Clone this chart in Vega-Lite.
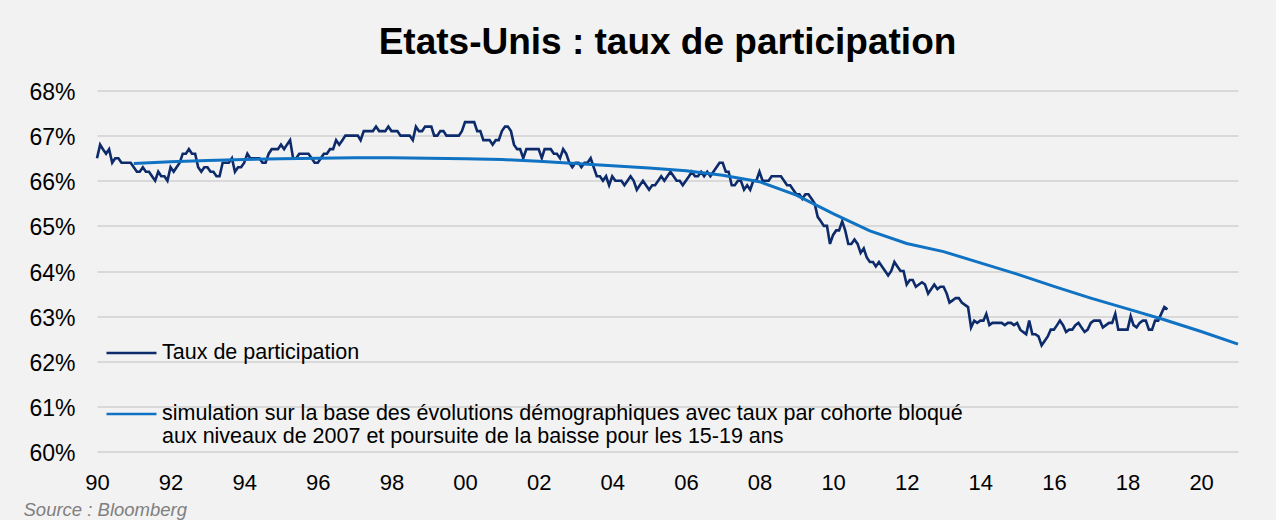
{
 "$schema": "https://vega.github.io/schema/vega-lite/v6.json",
 "autosize": {"type": "none"},
 "width": 1141,
 "height": 361,
 "padding": {"left": 97, "top": 90.5, "right": 38, "bottom": 68.5},
 "background": "#f2f2f2",
 "title": {"text": "Etats-Unis : taux de participation", "font": "Liberation Sans", "fontSize": 37, "fontWeight": "bold", "color": "#000000", "anchor": "middle", "frame": "group", "offset": 20},
 "config": {"view": {"stroke": null}, "font": "Liberation Sans"},
 "datasets": {
  "taux": [
{"d":"1990-01","v":66.5},{"d":"1990-02","v":66.8},{"d":"1990-03","v":66.7},{"d":"1990-04","v":66.6},{"d":"1990-05","v":66.7},{"d":"1990-06","v":66.4},{"d":"1990-07","v":66.5},{"d":"1990-08","v":66.5},{"d":"1990-09","v":66.4},{"d":"1990-10","v":66.4},{"d":"1990-11","v":66.4},{"d":"1990-12","v":66.4},
{"d":"1991-01","v":66.3},{"d":"1991-02","v":66.2},{"d":"1991-03","v":66.2},{"d":"1991-04","v":66.3},{"d":"1991-05","v":66.2},{"d":"1991-06","v":66.2},{"d":"1991-07","v":66.1},{"d":"1991-08","v":66.0},{"d":"1991-09","v":66.2},{"d":"1991-10","v":66.1},{"d":"1991-11","v":66.1},{"d":"1991-12","v":66.0},
{"d":"1992-01","v":66.3},{"d":"1992-02","v":66.2},{"d":"1992-03","v":66.3},{"d":"1992-04","v":66.4},{"d":"1992-05","v":66.6},{"d":"1992-06","v":66.6},{"d":"1992-07","v":66.7},{"d":"1992-08","v":66.6},{"d":"1992-09","v":66.6},{"d":"1992-10","v":66.3},{"d":"1992-11","v":66.2},{"d":"1992-12","v":66.3},
{"d":"1993-01","v":66.3},{"d":"1993-02","v":66.2},{"d":"1993-03","v":66.2},{"d":"1993-04","v":66.1},{"d":"1993-05","v":66.1},{"d":"1993-06","v":66.4},{"d":"1993-07","v":66.4},{"d":"1993-08","v":66.4},{"d":"1993-09","v":66.5},{"d":"1993-10","v":66.2},{"d":"1993-11","v":66.3},{"d":"1993-12","v":66.3},
{"d":"1994-01","v":66.4},{"d":"1994-02","v":66.6},{"d":"1994-03","v":66.5},{"d":"1994-04","v":66.5},{"d":"1994-05","v":66.5},{"d":"1994-06","v":66.5},{"d":"1994-07","v":66.4},{"d":"1994-08","v":66.4},{"d":"1994-09","v":66.6},{"d":"1994-10","v":66.7},{"d":"1994-11","v":66.7},{"d":"1994-12","v":66.7},
{"d":"1995-01","v":66.8},{"d":"1995-02","v":66.7},{"d":"1995-03","v":66.8},{"d":"1995-04","v":66.9},{"d":"1995-05","v":66.5},{"d":"1995-06","v":66.5},{"d":"1995-07","v":66.6},{"d":"1995-08","v":66.6},{"d":"1995-09","v":66.6},{"d":"1995-10","v":66.6},{"d":"1995-11","v":66.5},{"d":"1995-12","v":66.4},
{"d":"1996-01","v":66.4},{"d":"1996-02","v":66.5},{"d":"1996-03","v":66.6},{"d":"1996-04","v":66.6},{"d":"1996-05","v":66.7},{"d":"1996-06","v":66.7},{"d":"1996-07","v":66.9},{"d":"1996-08","v":66.8},{"d":"1996-09","v":66.9},{"d":"1996-10","v":67.0},{"d":"1996-11","v":67.0},{"d":"1996-12","v":67.0},
{"d":"1997-01","v":67.0},{"d":"1997-02","v":67.0},{"d":"1997-03","v":66.9},{"d":"1997-04","v":67.1},{"d":"1997-05","v":67.1},{"d":"1997-06","v":67.1},{"d":"1997-07","v":67.1},{"d":"1997-08","v":67.2},{"d":"1997-09","v":67.1},{"d":"1997-10","v":67.1},{"d":"1997-11","v":67.1},{"d":"1997-12","v":67.2},
{"d":"1998-01","v":67.1},{"d":"1998-02","v":67.1},{"d":"1998-03","v":67.1},{"d":"1998-04","v":67.0},{"d":"1998-05","v":67.0},{"d":"1998-06","v":67.0},{"d":"1998-07","v":67.0},{"d":"1998-08","v":66.9},{"d":"1998-09","v":67.2},{"d":"1998-10","v":67.1},{"d":"1998-11","v":67.1},{"d":"1998-12","v":67.2},
{"d":"1999-01","v":67.2},{"d":"1999-02","v":67.2},{"d":"1999-03","v":67.0},{"d":"1999-04","v":67.0},{"d":"1999-05","v":67.1},{"d":"1999-06","v":67.1},{"d":"1999-07","v":67.0},{"d":"1999-08","v":67.0},{"d":"1999-09","v":67.0},{"d":"1999-10","v":67.0},{"d":"1999-11","v":67.0},{"d":"1999-12","v":67.1},
{"d":"2000-01","v":67.3},{"d":"2000-02","v":67.3},{"d":"2000-03","v":67.3},{"d":"2000-04","v":67.3},{"d":"2000-05","v":67.1},{"d":"2000-06","v":67.1},{"d":"2000-07","v":66.9},{"d":"2000-08","v":66.9},{"d":"2000-09","v":66.9},{"d":"2000-10","v":66.8},{"d":"2000-11","v":66.9},{"d":"2000-12","v":66.9},
{"d":"2001-01","v":67.1},{"d":"2001-02","v":67.2},{"d":"2001-03","v":67.2},{"d":"2001-04","v":67.1},{"d":"2001-05","v":66.8},{"d":"2001-06","v":66.7},{"d":"2001-07","v":66.7},{"d":"2001-08","v":66.5},{"d":"2001-09","v":66.7},{"d":"2001-10","v":66.7},{"d":"2001-11","v":66.7},{"d":"2001-12","v":66.7},
{"d":"2002-01","v":66.7},{"d":"2002-02","v":66.5},{"d":"2002-03","v":66.7},{"d":"2002-04","v":66.7},{"d":"2002-05","v":66.7},{"d":"2002-06","v":66.6},{"d":"2002-07","v":66.6},{"d":"2002-08","v":66.5},{"d":"2002-09","v":66.7},{"d":"2002-10","v":66.6},{"d":"2002-11","v":66.4},{"d":"2002-12","v":66.3},
{"d":"2003-01","v":66.4},{"d":"2003-02","v":66.4},{"d":"2003-03","v":66.3},{"d":"2003-04","v":66.4},{"d":"2003-05","v":66.4},{"d":"2003-06","v":66.5},{"d":"2003-07","v":66.3},{"d":"2003-08","v":66.1},{"d":"2003-09","v":66.1},{"d":"2003-10","v":66.0},{"d":"2003-11","v":66.1},{"d":"2003-12","v":65.9},
{"d":"2004-01","v":66.1},{"d":"2004-02","v":66.0},{"d":"2004-03","v":66.0},{"d":"2004-04","v":66.0},{"d":"2004-05","v":65.9},{"d":"2004-06","v":66.0},{"d":"2004-07","v":66.1},{"d":"2004-08","v":66.0},{"d":"2004-09","v":65.8},{"d":"2004-10","v":65.9},{"d":"2004-11","v":66.0},{"d":"2004-12","v":65.9},
{"d":"2005-01","v":65.8},{"d":"2005-02","v":65.9},{"d":"2005-03","v":65.9},{"d":"2005-04","v":66.0},{"d":"2005-05","v":66.1},{"d":"2005-06","v":66.0},{"d":"2005-07","v":66.1},{"d":"2005-08","v":66.2},{"d":"2005-09","v":66.1},{"d":"2005-10","v":66.0},{"d":"2005-11","v":66.0},{"d":"2005-12","v":65.9},
{"d":"2006-01","v":66.0},{"d":"2006-02","v":66.1},{"d":"2006-03","v":66.2},{"d":"2006-04","v":66.1},{"d":"2006-05","v":66.1},{"d":"2006-06","v":66.2},{"d":"2006-07","v":66.1},{"d":"2006-08","v":66.2},{"d":"2006-09","v":66.1},{"d":"2006-10","v":66.2},{"d":"2006-11","v":66.3},{"d":"2006-12","v":66.4},
{"d":"2007-01","v":66.4},{"d":"2007-02","v":66.2},{"d":"2007-03","v":66.2},{"d":"2007-04","v":65.9},{"d":"2007-05","v":65.9},{"d":"2007-06","v":66.0},{"d":"2007-07","v":66.0},{"d":"2007-08","v":65.8},{"d":"2007-09","v":65.9},{"d":"2007-10","v":65.8},{"d":"2007-11","v":66.0},{"d":"2007-12","v":66.0},
{"d":"2008-01","v":66.2},{"d":"2008-02","v":66.0},{"d":"2008-03","v":66.0},{"d":"2008-04","v":66.0},{"d":"2008-05","v":66.1},{"d":"2008-06","v":66.1},{"d":"2008-07","v":66.1},{"d":"2008-08","v":66.1},{"d":"2008-09","v":66.0},{"d":"2008-10","v":65.9},{"d":"2008-11","v":65.9},{"d":"2008-12","v":65.8},
{"d":"2009-01","v":65.7},{"d":"2009-02","v":65.7},{"d":"2009-03","v":65.6},{"d":"2009-04","v":65.7},{"d":"2009-05","v":65.7},{"d":"2009-06","v":65.6},{"d":"2009-07","v":65.5},{"d":"2009-08","v":65.2},{"d":"2009-09","v":65.1},{"d":"2009-10","v":65.0},{"d":"2009-11","v":65.0},{"d":"2009-12","v":64.6},
{"d":"2010-01","v":64.8},{"d":"2010-02","v":64.9},{"d":"2010-03","v":64.9},{"d":"2010-04","v":65.1},{"d":"2010-05","v":64.9},{"d":"2010-06","v":64.6},{"d":"2010-07","v":64.6},{"d":"2010-08","v":64.7},{"d":"2010-09","v":64.6},{"d":"2010-10","v":64.4},{"d":"2010-11","v":64.5},{"d":"2010-12","v":64.3},
{"d":"2011-01","v":64.2},{"d":"2011-02","v":64.2},{"d":"2011-03","v":64.1},{"d":"2011-04","v":64.2},{"d":"2011-05","v":64.1},{"d":"2011-06","v":64.0},{"d":"2011-07","v":63.9},{"d":"2011-08","v":64.0},{"d":"2011-09","v":64.2},{"d":"2011-10","v":64.1},{"d":"2011-11","v":64.0},{"d":"2011-12","v":64.0},
{"d":"2012-01","v":63.7},{"d":"2012-02","v":63.8},{"d":"2012-03","v":63.8},{"d":"2012-04","v":63.65},{"d":"2012-05","v":63.7},{"d":"2012-06","v":63.75},{"d":"2012-07","v":63.7},{"d":"2012-08","v":63.5},{"d":"2012-09","v":63.6},{"d":"2012-10","v":63.7},{"d":"2012-11","v":63.6},{"d":"2012-12","v":63.65},
{"d":"2013-01","v":63.65},{"d":"2013-02","v":63.5},{"d":"2013-03","v":63.3},{"d":"2013-04","v":63.35},{"d":"2013-05","v":63.4},{"d":"2013-06","v":63.4},{"d":"2013-07","v":63.3},{"d":"2013-08","v":63.25},{"d":"2013-09","v":63.2},{"d":"2013-10","v":62.75},{"d":"2013-11","v":62.9},{"d":"2013-12","v":62.85},
{"d":"2014-01","v":62.9},{"d":"2014-02","v":62.9},{"d":"2014-03","v":63.05},{"d":"2014-04","v":62.8},{"d":"2014-05","v":62.85},{"d":"2014-06","v":62.85},{"d":"2014-07","v":62.85},{"d":"2014-08","v":62.85},{"d":"2014-09","v":62.8},{"d":"2014-10","v":62.85},{"d":"2014-11","v":62.85},{"d":"2014-12","v":62.8},
{"d":"2015-01","v":62.85},{"d":"2015-02","v":62.7},{"d":"2015-03","v":62.65},{"d":"2015-04","v":62.6},{"d":"2015-05","v":62.9},{"d":"2015-06","v":62.6},{"d":"2015-07","v":62.6},{"d":"2015-08","v":62.55},{"d":"2015-09","v":62.35},{"d":"2015-10","v":62.45},{"d":"2015-11","v":62.55},{"d":"2015-12","v":62.7},
{"d":"2016-01","v":62.7},{"d":"2016-02","v":62.8},{"d":"2016-03","v":62.9},{"d":"2016-04","v":62.8},{"d":"2016-05","v":62.65},{"d":"2016-06","v":62.7},{"d":"2016-07","v":62.7},{"d":"2016-08","v":62.8},{"d":"2016-09","v":62.85},{"d":"2016-10","v":62.75},{"d":"2016-11","v":62.65},{"d":"2016-12","v":62.7},
{"d":"2017-01","v":62.85},{"d":"2017-02","v":62.9},{"d":"2017-03","v":62.9},{"d":"2017-04","v":62.9},{"d":"2017-05","v":62.75},{"d":"2017-06","v":62.8},{"d":"2017-07","v":62.85},{"d":"2017-08","v":62.85},{"d":"2017-09","v":63.05},{"d":"2017-10","v":62.7},{"d":"2017-11","v":62.7},{"d":"2017-12","v":62.7},
{"d":"2018-01","v":62.7},{"d":"2018-02","v":63.0},{"d":"2018-03","v":62.8},{"d":"2018-04","v":62.75},{"d":"2018-05","v":62.85},{"d":"2018-06","v":62.9},{"d":"2018-07","v":62.9},{"d":"2018-08","v":62.7},{"d":"2018-09","v":62.7},{"d":"2018-10","v":62.9},{"d":"2018-11","v":62.9},{"d":"2018-12","v":63.05},
{"d":"2019-01","v":63.2},{"d":"2019-02","v":63.15}
  ],
  "sim": [
{"d":"1991-01","v":66.38},{"d":"1992-01","v":66.42},{"d":"1993-01","v":66.45},{"d":"1994-01","v":66.47},{"d":"1995-01","v":66.49},{"d":"1996-01","v":66.5},{"d":"1997-01","v":66.51},{"d":"1998-01","v":66.51},{"d":"1999-01","v":66.5},{"d":"2000-01","v":66.49},{"d":"2001-01","v":66.47},{"d":"2002-01","v":66.43},{"d":"2003-01","v":66.38},{"d":"2004-01","v":66.33},{"d":"2005-01","v":66.28},{"d":"2006-01","v":66.22},{"d":"2007-01","v":66.12},{"d":"2008-01","v":65.98},{"d":"2009-01","v":65.68},{"d":"2010-01","v":65.27},{"d":"2011-01","v":64.89},{"d":"2012-01","v":64.61},{"d":"2013-01","v":64.43},{"d":"2014-01","v":64.18},{"d":"2015-01","v":63.93},{"d":"2016-01","v":63.66},{"d":"2017-01","v":63.4},{"d":"2018-01","v":63.16},{"d":"2019-01","v":62.92},{"d":"2020-01","v":62.66},{"d":"2021-01","v":62.38}
  ]
 },
 "encoding": {
  "x": {
   "field": "d", "type": "temporal",
   "scale": {"type": "utc", "domain": [{"year": 1990, "month": 1, "date": 1, "utc": true}, {"year": 2021, "month": 1, "date": 1, "utc": true}], "nice": false},
   "axis": {
    "values": [{"year":1990,"utc":true},{"year":1992,"utc":true},{"year":1994,"utc":true},{"year":1996,"utc":true},{"year":1998,"utc":true},{"year":2000,"utc":true},{"year":2002,"utc":true},{"year":2004,"utc":true},{"year":2006,"utc":true},{"year":2008,"utc":true},{"year":2010,"utc":true},{"year":2012,"utc":true},{"year":2014,"utc":true},{"year":2016,"utc":true},{"year":2018,"utc":true},{"year":2020,"utc":true}],
    "labelExpr": "utcFormat(datum.value, '%y')",
    "grid": false, "domain": false, "ticks": false,
    "labelPadding": 21, "labelFont": "Liberation Sans", "labelFontSize": 22, "labelColor": "#000000",
    "labelOverlap": false, "labelFlush": false, "labelBound": false,
    "title": "Source : Bloomberg", "titleFont": "Liberation Sans", "titleFontSize": 18.5, "titleFontStyle": "italic", "titleFontWeight": "normal", "titleColor": "#7f7f7f",
    "titleAnchor": "start", "titleAlign": "left", "titleBaseline": "alphabetic", "titleX": -74, "titleY": 64
   }
  },
  "y": {
   "field": "v", "type": "quantitative",
   "scale": {"domain": [60, 68], "nice": false, "zero": false},
   "axis": {
    "values": [60, 61, 62, 63, 64, 65, 66, 67, 68],
    "labelExpr": "datum.value + '%'",
    "domain": false, "ticks": false, "labelPadding": 22,
    "labelFont": "Liberation Sans", "labelFontSize": 23, "labelColor": "#000000", "labelOffset": 2,
    "gridColor": "#d9d9d9", "gridWidth": 2, "title": null
   }
  }
 },
 "layer": [
  {
   "data": {"name": "taux"},
   "mark": {"type": "line", "strokeWidth": 2.6},
   "encoding": {
    "color": {
     "datum": "Taux", "type": "nominal",
     "scale": {"domain": ["Taux", "Sim"], "range": ["#0d2b6b", "#0f72c2"]},
     "legend": {
      "orient": "none", "legendX": 8, "legendY": 236, "direction": "vertical", "title": null,
      "symbolType": "stroke", "symbolSize": 2500, "symbolStrokeWidth": 2.5,
      "labelFont": "Liberation Sans", "labelFontSize": 21.5, "labelColor": "#000000", "labelLimit": 1200, "labelOffset": 4,
      "rowPadding": 24, "padding": 0,
      "labelExpr": "datum.value === 'Sim' ? ['simulation sur la base des évolutions démographiques avec taux par cohorte bloqué', 'aux niveaux de 2007 et poursuite de la baisse pour les 15-19 ans'] : 'Taux de participation'",
      "encode": {"labels": {"update": {"lineHeight": {"value": 23}}}}
     }
    }
   }
  },
  {
   "data": {"name": "sim"},
   "mark": {"type": "line", "strokeWidth": 3},
   "encoding": {"color": {"datum": "Sim", "type": "nominal"}}
  }
 ]
}
